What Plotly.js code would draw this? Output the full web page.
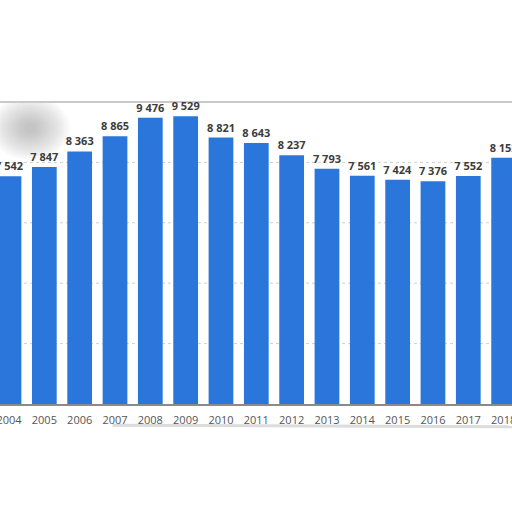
<!DOCTYPE html>
<html>
<head>
<meta charset="utf-8">
<script src="https://cdn.plot.ly/plotly-3.0.1.min.js"></script>
<style>
  html, body { margin: 0; padding: 0; background: #ffffff; }
  #chart { width: 512px; height: 512px; }
</style>
</head>
<body>
<div id="chart"></div>
<script>
// values (first and last bar are cut off by the crop)
const years = ['2004', '2005', '2006', '2007', '2008', '2009', '2010', '2011',
  '2012', '2013', '2014', '2015', '2016', '2017', '2018'];
const counts = [7542, 7847, 8363, 8865, 9476, 9529, 8821, 8643,
  8237, 7793, 7561, 7424, 7376, 7552, 8152];
const gridValues = [2000, 4000, 6000, 8000];

const barColor = '#2a76da';

const data = [{
  type: 'bar',
  x: years,
  y: counts,
  marker: { color: barColor },
  texttemplate: '%{y:,}',
  textposition: 'outside',
  constraintext: 'none',
  cliponaxis: false,
  textfont: { family: 'Open Sans', size: 11, color: '#3c3c3c', weight: 'bold' },
  hoverinfo: 'skip',
  showlegend: false,
}];

// dotted grid lines drawn as shapes so they stay dotted
const shapes = gridValues.map((v) => ({
  type: 'line',
  xref: 'paper', yref: 'y',
  x0: 0, x1: 1, y0: v, y1: v,
  line: { color: '#cfcfcf', width: 1, dash: 'dot' },
  layer: 'below',
}));

// blurry grey smudge at top left, stacked faint ellipses
for (let i = 0; i < 14; i++) {
  const rx = 40 - i * 2.6;
  const ry = 32 - i * 2.1;
  shapes.push({
    type: 'circle',
    xref: 'paper', yref: 'paper',
    x0: (30 - rx) / 512, x1: (30 + rx) / 512,
    y0: 1 - (26 + ry) / 302, y1: 1 - (26 - ry) / 302,
    fillcolor: '#8c8c8c',
    opacity: 0.045,
    line: { width: 0 },
    layer: 'below',
  });
}

// grey top edge of the page
shapes.push({
  type: 'line',
  xref: 'paper', yref: 'paper',
  x0: 0, x1: 1, y0: 1, y1: 1,
  line: { color: '#c9c9c9', width: 2 },
  layer: 'below',
});
shapes.push({
  type: 'rect',
  xref: 'paper', yref: 'paper',
  x0: 0, x1: 1, y0: 1.003, y1: 1.05,
  fillcolor: '#ffffff',
  line: { width: 0 },
  layer: 'below',
});

// faint shadow under the year labels
shapes.push({
  type: 'line',
  xref: 'paper', yref: 'paper',
  x0: 0.22, x1: 1, y0: -0.07, y1: -0.075,
  line: { color: '#dcdcdc', width: 3 },
  layer: 'below',
});

const layout = {
  width: 512,
  height: 512,
  margin: { l: 0, r: 0, t: 102, b: 108, pad: 0 },
  paper_bgcolor: '#ffffff',
  plot_bgcolor: '#ffffff',
  separators: '. ',
  bargap: 0.3,
  xaxis: {
    type: 'category',
    range: [-0.255, 14.237],
    showgrid: false,
    zeroline: false,
    showline: true,
    linecolor: '#8a8a8a',
    linewidth: 2,
    ticks: 'outside',
    ticklen: 5,
    tickcolor: 'rgba(0,0,0,0)',
    tickfont: { family: 'Open Sans', size: 11, color: '#555555' },
  },
  yaxis: {
    range: [0, 10000],
    showgrid: false,
    zeroline: false,
    showticklabels: false,
    fixedrange: true,
  },
  shapes: shapes,
};

Plotly.newPlot('chart', data, layout, { staticPlot: true, displayModeBar: false });
</script>
</body>
</html>
